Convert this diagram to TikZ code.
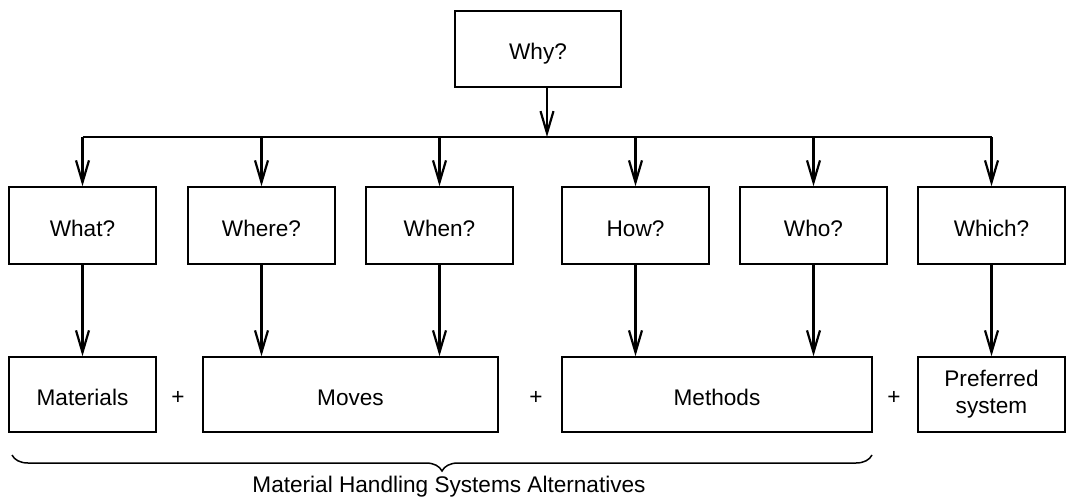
\documentclass[tikz,border=0pt]{standalone}
\usepackage{fontspec}
\setmainfont{Liberation Sans}
\usetikzlibrary{arrows.meta,decorations.pathreplacing}
\begin{document}
\begin{tikzpicture}[x=0.5pt,y=-0.5pt,
  font=\fontsize{11.3}{12.5}\selectfont,
  qbox/.style={draw, line width=0.75pt, minimum width=73.5pt, minimum height=38.5pt, inner sep=0pt, text height=2.3ex, text depth=0.3ex},
  rbox/.style={draw, line width=0.75pt, minimum height=37.5pt, inner sep=0pt, align=center},
  arr/.style={line width=1.2pt, -{Straight Barb[length=11pt,width=6.5pt,line width=1.1pt]}},
  bar/.style={line width=1.2pt}]
\useasboundingbox (0,0) rectangle (1076,503);
% top
\node[qbox, minimum width=83pt, minimum height=38pt] (why) at (538,49) {Why?};
% question row
\node[qbox] (what)  at (82.5,225.5) {What?};
\node[qbox] (where) at (261.5,225.5) {Where?};
\node[qbox] (when)  at (439.5,225.5) {When?};
\node[qbox] (how)   at (635.5,225.5) {How?};
\node[qbox] (who)   at (813.5,225.5) {Who?};
\node[qbox] (which) at (991.5,225.5) {Which?};
% result row
\node[rbox, minimum width=73.5pt, text height=2.3ex, text depth=0.3ex] (materials) at (82.5,394.5) {Materials};
\node[rbox, minimum width=147.5pt, text height=2.3ex, text depth=0.3ex] (moves) at (350.5,394.5) {Moves};
\node[rbox, minimum width=155pt, text height=2.3ex, text depth=0.3ex] (methods) at (717,394.5) {Methods};
\node[rbox, minimum width=73.5pt] (preferred) at (991.5,394.5) {Preferred\\[1pt]system};
% plus signs
\node (p1) at (178,398) {+};
\node (p2) at (536,398) {+};
\node (p3) at (894,398) {+};
% connectors
\coordinate (hub) at (547,137);
\coordinate (wtop) at ([xshift=4.5pt]why.south);
\draw[arr] (wtop) -- (hub);
\draw[bar] (what.north |- hub) -- (which.north |- hub);
\foreach \n in {what,where,when,how,who,which}
  \draw[arr] (\n.north |- hub) -- (\n.north);
\draw[arr] (what.south) -- (what.south |- materials.north);
\draw[arr] (where.south) -- (where.south |- moves.north);
\draw[arr] (when.south) -- (when.south |- moves.north);
\draw[arr] (how.south) -- (how.south |- methods.north);
\draw[arr] (who.south) -- (who.south |- methods.north);
\draw[arr] (which.south) -- (which.south |- preferred.north);
% brace
\coordinate (bl) at (12,455);
\coordinate (br) at (872,455);
\draw[line width=0.75pt, decorate, decoration={brace, mirror, amplitude=8pt}] (bl) -- (br);
\node (label) at (449,487) {Material Handling Systems Alternatives};
\end{tikzpicture}
\end{document}
